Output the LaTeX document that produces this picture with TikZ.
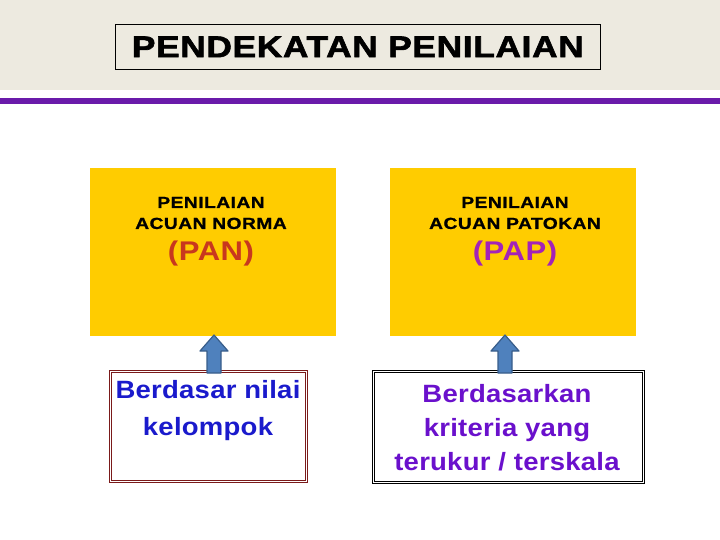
\documentclass[tikz,border=0pt]{standalone}
\usepackage{fontspec}
\setmainfont{Liberation Sans}
\definecolor{band}{HTML}{EDEAE0}
\definecolor{purpline}{HTML}{6A1AAA}
\definecolor{yel}{HTML}{FFCC00}
\definecolor{pancol}{HTML}{C8381E}
\definecolor{papcol}{HTML}{A323B8}
\definecolor{bluetxt}{HTML}{1A1ACC}
\definecolor{purptxt}{HTML}{6A10CC}
\definecolor{arrfill}{HTML}{4F81BD}
\definecolor{arrdraw}{HTML}{385D8A}
\definecolor{redbrd}{HTML}{7A1A1A}
\tikzset{
  yelbox/.style={fill=yel, minimum width=246pt, minimum height=168pt, anchor=north west, inner sep=0pt},
  headtxt/.style={font=\bfseries\fontsize{16}{21}\selectfont\addfontfeatures{FakeStretch=1.2,LetterSpace=3,FakeBold=1}, align=center, text=black},
  abbr/.style={font=\bfseries\fontsize{27}{30}\selectfont\addfontfeatures{FakeStretch=1.15,LetterSpace=2}},
  lowbox/.style={draw, double, double distance=1.2pt, line width=0.6pt, fill=white, anchor=north west, inner sep=0pt},
  lowtxt/.style={font=\bfseries\fontsize{25}{34}\selectfont\addfontfeatures{FakeStretch=1.1,LetterSpace=1}, align=center},
  blockarrow/.style={fill=arrfill, draw=arrdraw, line width=1.2pt, line join=round}
}
\begin{document}
\begin{tikzpicture}[x=1pt,y=-1pt]
\useasboundingbox (0,0) rectangle (720,540);
\fill[band] (0,0) rectangle (720,90);
\fill[purpline] (0,98) rectangle (720,104);
\node[draw=black, fill=band, line width=0.7pt, minimum width=485pt, minimum height=45pt, anchor=north west, inner sep=0pt,
      font=\bfseries\fontsize{30}{34}\selectfont\addfontfeatures{FakeStretch=1.18,LetterSpace=2,FakeBold=2}] (title) at (115,24) {PENDEKATAN PENILAIAN};

\node[yelbox] (pan) at (90,168) {};
\node[yelbox] (pap) at (390,168) {};
\node[headtxt] (panh) at (211,213) {PENILAIAN\\ACUAN NORMA};
\node[headtxt] (paph) at (515,213) {PENILAIAN\\ACUAN PATOKAN};
\node[abbr, text=pancol] (pana) at (211,254) {(PAN)};
\node[abbr, text=papcol] (papa) at (515,254) {(PAP)};

\node[lowbox, draw=redbrd, minimum width=196pt, minimum height=110pt] (lowl) at (110,371) {};
\node[lowbox, draw=black, minimum width=270pt, minimum height=111pt] (lowr) at (373,371) {};
\node[lowtxt, text=bluetxt, anchor=north, font=\bfseries\fontsize{25}{37}\selectfont\addfontfeatures{FakeStretch=1.1,LetterSpace=1}] (lowlt) at (208,377) {Berdasar nilai\\kelompok};
\node[lowtxt, text=purptxt, anchor=north] (lowrt) at (507,381) {Berdasarkan\\kriteria yang\\terukur / terskala};

\draw[blockarrow] (lowl.north -| 214,0) ++(-7,2) -- ++(0,-22) -- ++(-7,0) -- ++(14,-16) -- ++(14,16) -- ++(-7,0) -- ++(0,22) -- cycle;
\draw[blockarrow] (lowr.north -| 505,0) ++(-7,2) -- ++(0,-22) -- ++(-7,0) -- ++(14,-16) -- ++(14,16) -- ++(-7,0) -- ++(0,22) -- cycle;
\end{tikzpicture}
\end{document}
